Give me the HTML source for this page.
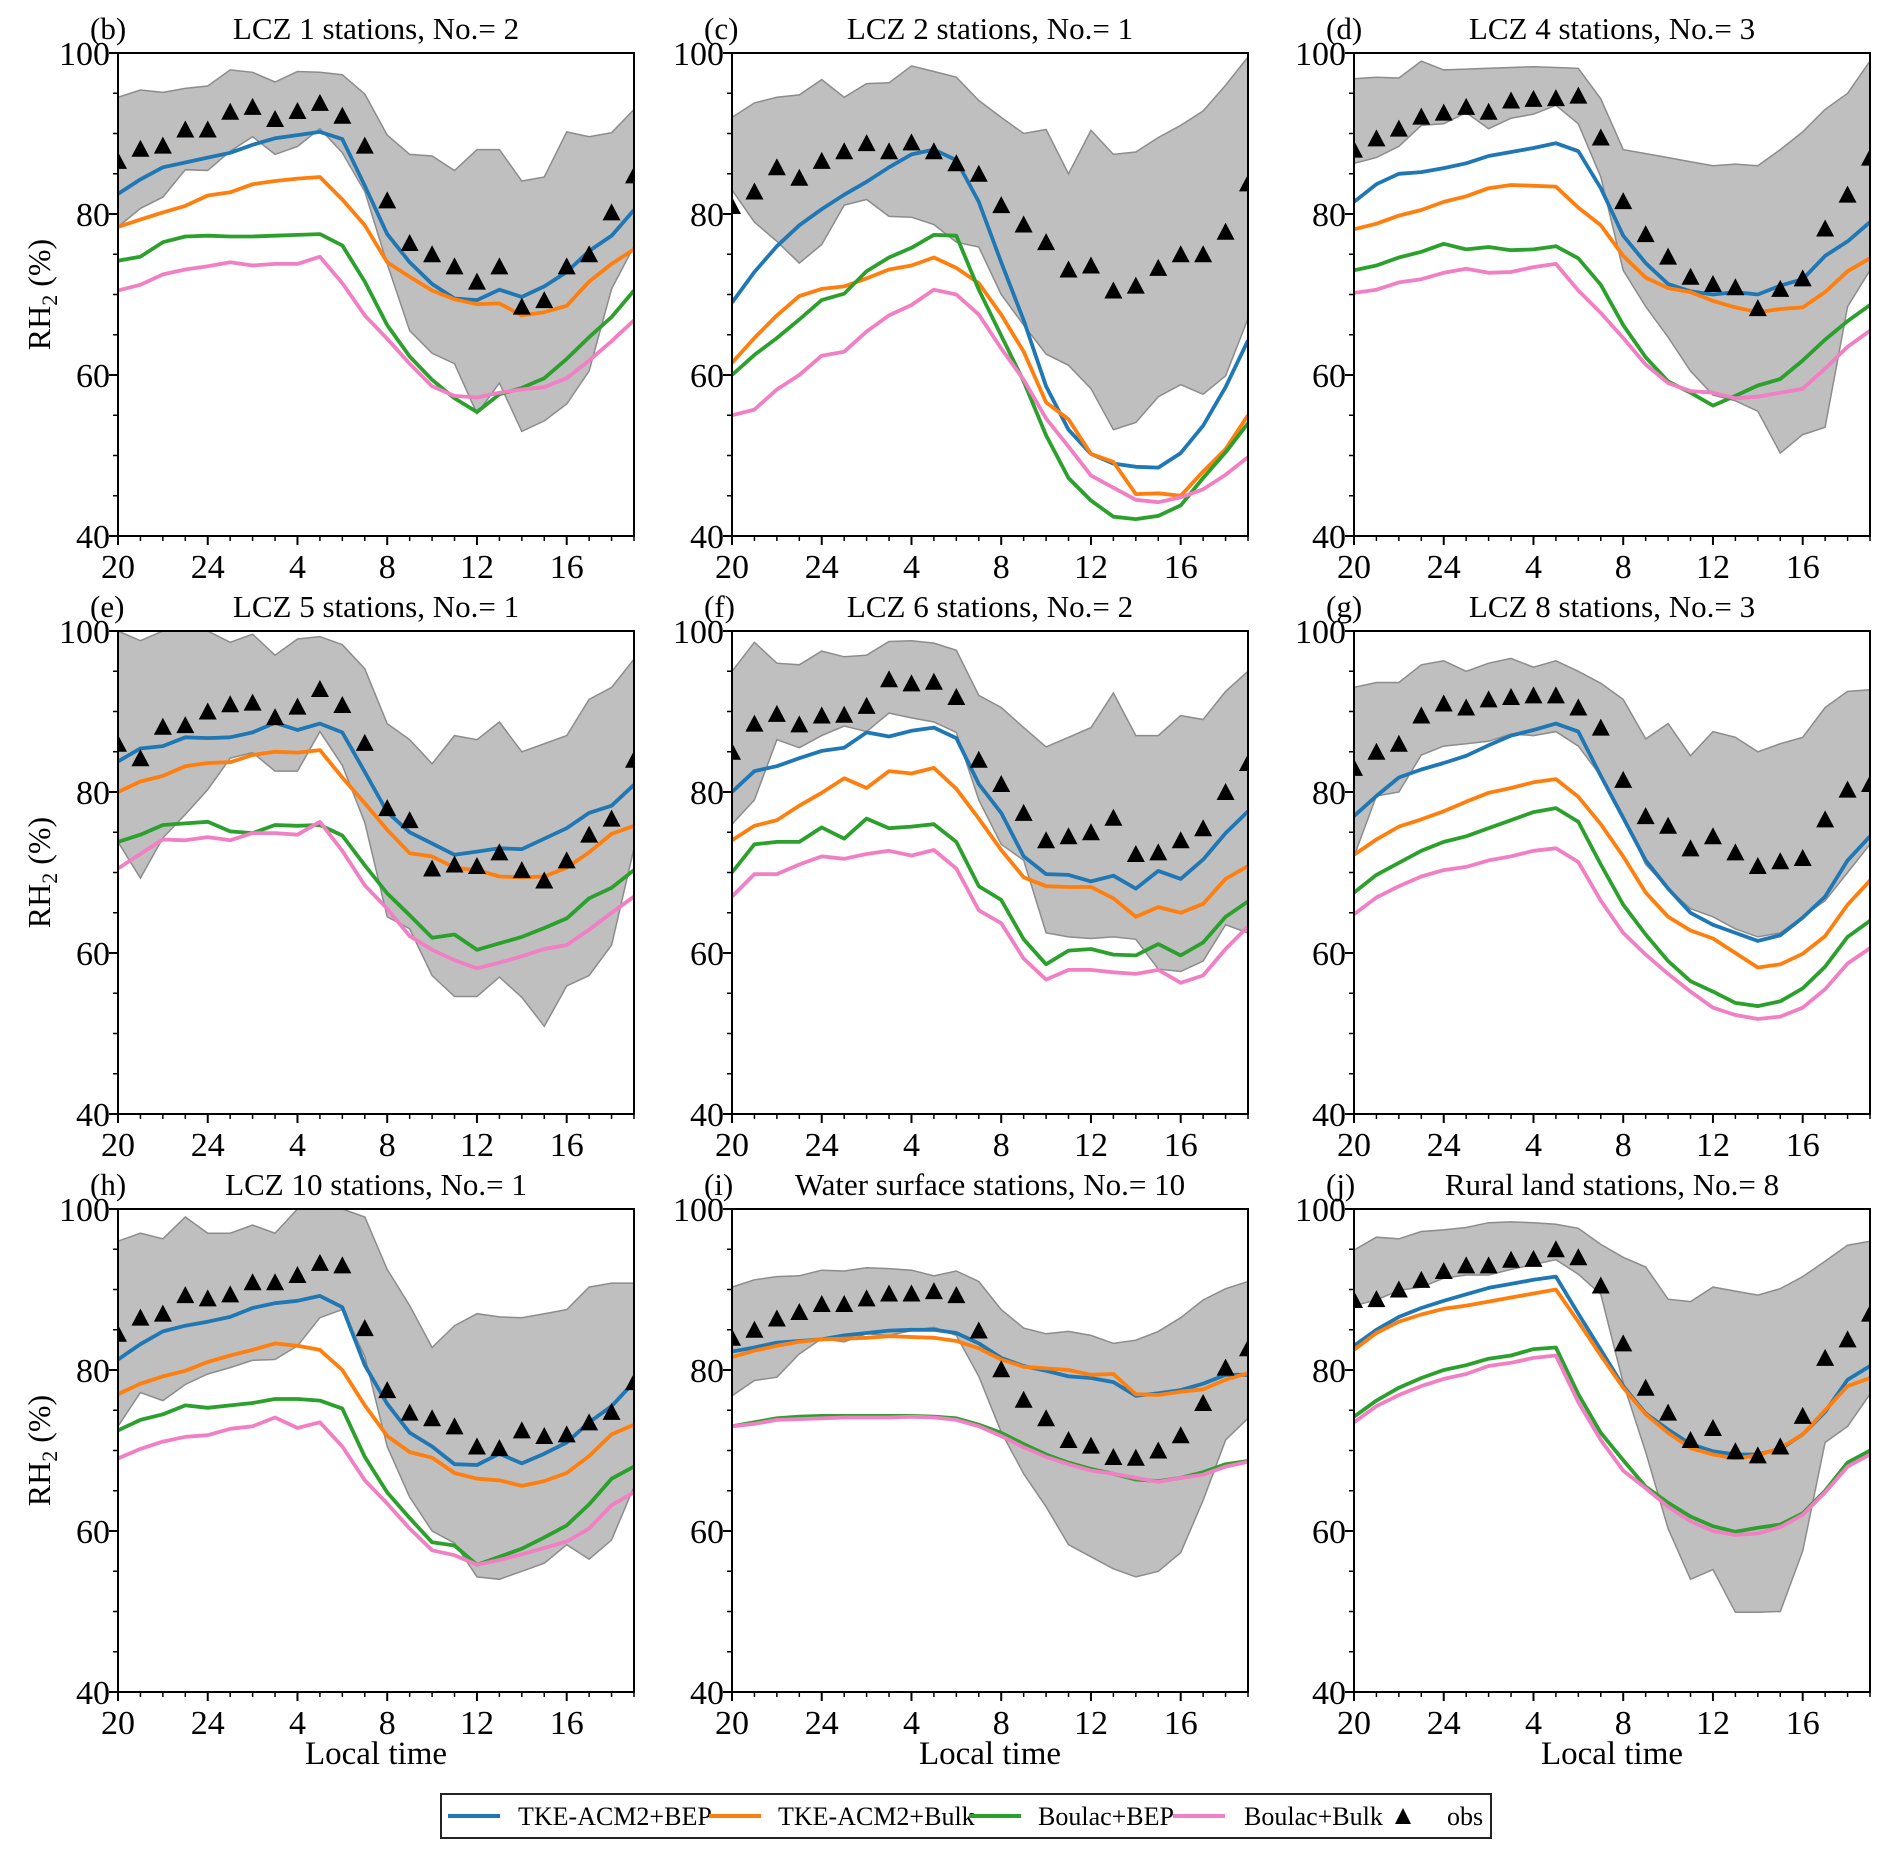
<!DOCTYPE html>
<html><head><meta charset="utf-8"><style>
html,body{margin:0;padding:0;background:#fff;}
svg{display:block;font-family:"Liberation Serif",serif;}
</style></head><body>
<svg id="fig" width="1892" height="1860" viewBox="0 0 1892 1860" xmlns="http://www.w3.org/2000/svg"></svg>
<script>
const hours = [20,21,22,23,24,1,2,3,4,5,6,7,8,9,10,11,12,13,14,15,16,17,18,19];
const xTickLabels = ["20","24","4","8","12","16"];
const yTickLabels = [40,60,80,100];
const seriesNames = ["TKE-ACM2+BEP","TKE-ACM2+Bulk","Boulac+BEP","Boulac+Bulk"];
const seriesColors = ["#1f77b4","#ff7f0e","#2ca02c","#f17fc3"];
const titles = ["LCZ 1 stations, No.= 2","LCZ 2 stations, No.= 1","LCZ 4 stations, No.= 3","LCZ 5 stations, No.= 1","LCZ 6 stations, No.= 2","LCZ 8 stations, No.= 3","LCZ 10 stations, No.= 1","Water surface stations, No.= 10","Rural land stations, No.= 8"];
const letters = ["(b)","(c)","(d)","(e)","(f)","(g)","(h)","(i)","(j)"];

const blue = [
[82.5,84.3,85.8,86.4,87,87.6,88.6,89.4,89.8,90.2,89.3,83.5,77.5,74,71.3,69.5,69.3,70.6,69.7,71,72.8,75.4,77.3,80.5],
[69,72.8,76,78.6,80.6,82.4,84,85.8,87.4,88,86.7,81.5,74,66.8,58.6,53.2,50.2,49,48.6,48.5,50.3,53.7,58.5,64.3],
[81.5,83.7,85,85.2,85.7,86.3,87.2,87.7,88.2,88.8,87.8,83.2,77.3,73.9,71.3,70.4,70,70.3,70,71.1,71.9,74.8,76.6,79],
[83.8,85.4,85.7,86.8,86.7,86.8,87.4,88.6,87.7,88.5,87.4,82.5,77.5,75,73.6,72.2,72.6,73,72.9,74.2,75.5,77.4,78.3,80.9],
[80,82.6,83.2,84.2,85.1,85.5,87.4,86.9,87.6,88,86.7,81,77.4,72,69.8,69.7,68.9,69.6,68,70.2,69.2,71.6,74.9,77.6],
[77,79.5,81.8,82.8,83.6,84.5,85.8,87,87.7,88.5,87.5,82,76.8,71.5,68,65,63.5,62.5,61.5,62.2,64.4,67,71.5,74.5],
[81.3,83.2,84.8,85.5,86,86.6,87.7,88.3,88.6,89.2,87.8,80.6,75.8,72.2,70.5,68.3,68.2,69.6,68.4,69.6,71,73.5,75.5,78.5],
[82.3,82.8,83.4,83.6,83.8,84.3,84.6,84.9,85,85,84.6,83.3,81.5,80.5,79.9,79.2,79,78.5,76.8,77.1,77.5,78.3,79.4,79.4],
[83,85,86.6,87.7,88.6,89.4,90.2,90.7,91.2,91.6,87,82.5,78,74.6,72.6,70.8,69.9,69.5,69.5,70.2,72,74.8,78.8,80.5]];
const orange = [
[78.4,79.3,80.2,81,82.3,82.7,83.7,84.1,84.4,84.6,81.8,78.6,74,72.2,70.5,69.4,68.8,68.9,67.4,67.8,68.6,71.6,73.8,75.6],
[61.5,64.6,67.4,69.8,70.7,71,72,73.1,73.6,74.6,73.3,71.4,67.5,62.9,56.6,54.5,50.2,49.2,45.2,45.3,45,48,50.8,55],
[78.1,78.8,79.8,80.5,81.5,82.2,83.2,83.6,83.5,83.4,80.8,78.6,74.8,72.1,70.8,70.3,69.2,68.4,67.8,68.2,68.4,70.3,72.9,74.5],
[80,81.3,82,83.2,83.6,83.7,84.6,85,84.9,85.2,81.8,78.6,75.3,72.4,72,70.6,70.3,69.5,69.4,69.5,70.6,72.5,74.8,75.8],
[74,75.8,76.5,78.3,79.9,81.7,80.5,82.6,82.3,83,80.4,76.7,72.8,69.4,68.3,68.2,68.2,66.8,64.5,65.7,65,66.1,69.2,70.8],
[72.2,74.1,75.7,76.6,77.6,78.8,79.9,80.5,81.2,81.6,79.4,76,72,67.5,64.5,62.8,61.8,60,58.2,58.6,59.9,62.1,66,69],
[77,78.3,79.2,79.9,81,81.8,82.5,83.3,83,82.5,80,75.6,71.8,69.8,69.1,67.2,66.5,66.3,65.6,66.2,67.2,69.3,72,73.2],
[81.6,82.4,83,83.5,83.8,83.9,84,84.2,84.1,84,83.6,82.7,81.3,80.4,80.2,80,79.4,79.5,77,76.9,77.3,77.6,78.8,79.6],
[82.5,84.6,86,86.9,87.6,88,88.5,89,89.5,90,86,81.8,77.8,74.5,72.2,70.3,69.5,69,69.4,70.3,72,75,78,79]];
const green = [
[74.2,74.7,76.5,77.2,77.3,77.2,77.2,77.3,77.4,77.5,76.1,71.6,66.2,62.3,59.4,57.1,55.4,57.6,58.4,59.6,62,64.7,67.2,70.5],
[60,62.5,64.6,66.9,69.3,70.1,72.9,74.6,75.8,77.4,77.3,70.6,64.9,59.2,52.5,47.2,44.4,42.4,42.1,42.5,43.8,47.2,50.4,54],
[73,73.6,74.6,75.3,76.3,75.6,75.9,75.5,75.6,76,74.5,71.2,66.2,62.2,59.2,57.8,56.2,57.4,58.7,59.5,61.8,64.4,66.7,68.7],
[73.8,74.7,75.9,76.1,76.3,75.1,74.9,75.9,75.8,75.9,74.6,70.9,67.4,64.7,61.9,62.3,60.4,61.2,62,63.1,64.3,66.8,68.1,70.3],
[70,73.5,73.8,73.8,75.6,74.2,76.7,75.5,75.7,76,73.8,68.3,66.6,61.7,58.6,60.3,60.5,59.8,59.7,61.1,59.7,61.3,64.5,66.4],
[67.5,69.7,71.2,72.7,73.8,74.5,75.5,76.5,77.5,78,76.3,71,66,62.3,59,56.5,55.2,53.8,53.4,54,55.6,58.3,62,64],
[72.5,73.8,74.5,75.6,75.3,75.6,75.9,76.4,76.4,76.2,75.2,69.2,64.8,61.6,58.6,58.2,55.8,56.8,57.8,59.2,60.7,63.3,66.5,68],
[73,73.5,74,74.2,74.3,74.3,74.3,74.3,74.3,74.2,74,73.2,72.2,70.8,69.5,68.5,67.7,67.1,66.4,66.2,66.6,67.3,68.3,68.7],
[74.2,76.2,77.8,79,80,80.6,81.4,81.8,82.6,82.8,77,72.2,68.8,65.5,63.5,61.8,60.6,59.9,60.4,60.8,62.2,65,68.5,70]];
const pink = [
[70.5,71.2,72.5,73.1,73.5,74,73.6,73.8,73.8,74.7,71.4,67.4,64.5,61.4,58.6,57.4,57.2,57.8,58.2,58.5,59.6,61.8,64.2,66.8],
[55,55.7,58.2,60,62.4,62.9,65.4,67.4,68.7,70.6,70,67.5,63.3,59.4,54.6,51.1,47.5,46,44.5,44.2,44.8,45.8,47.6,49.8],
[70.2,70.6,71.5,71.9,72.7,73.2,72.7,72.8,73.4,73.8,70.5,67.7,64.6,61.3,59,58,57.8,57.1,57.3,57.8,58.3,60.8,63.5,65.5],
[70.5,72.3,74.1,74,74.4,74,74.9,74.9,74.7,76.3,72.7,68.4,65.5,62.1,60.4,59.1,58.1,58.8,59.6,60.5,61,62.9,65,67],
[67,69.8,69.8,71,72,71.7,72.3,72.7,72.1,72.8,70.5,65.3,63.7,59.3,56.7,57.9,57.9,57.6,57.4,57.9,56.3,57.2,60.5,63.3],
[64.8,66.9,68.3,69.5,70.3,70.7,71.5,72,72.7,73,71.3,66.5,62.5,59.8,57.4,55.2,53.2,52.3,51.8,52.1,53.2,55.5,58.7,60.6],
[69,70.2,71.1,71.7,71.9,72.7,73,74.1,72.8,73.5,70.5,66.3,63.4,60.3,57.6,57,55.8,56.4,57.1,57.9,58.7,60.3,63.2,64.8],
[73,73.3,73.8,73.9,74,74.1,74.1,74.1,74.2,74.1,73.8,73,71.8,70.4,69.2,68.3,67.5,67.1,66.6,66.1,66.6,67,68,68.6],
[73.5,75.5,76.9,78,78.9,79.5,80.5,80.9,81.5,81.8,76,71.3,67.5,65.3,63,61.2,60,59.5,59.7,60.5,62,64.8,68,69.5]];
const obs = [
[86.6,88.1,88.5,90.5,90.5,92.7,93.3,91.8,92.8,93.8,92.2,88.5,81.7,76.4,75,73.5,71.6,73.5,68.5,69.3,73.5,75,80.2,84.8],
[81,82.8,85.8,84.5,86.6,87.8,88.8,87.8,88.9,87.8,86.3,85,81.1,78.7,76.5,73.1,73.6,70.5,71.1,73.3,75,75,77.8,83.8],
[88,89.4,90.6,92.1,92.6,93.3,92.7,94.1,94.3,94.4,94.7,89.5,81.6,77.5,74.7,72.2,71.3,70.9,68.3,70.7,72,78.2,82.4,87],
[86,84.2,88.1,88.3,90,90.9,91.1,89.3,90.6,92.8,90.8,86.1,78,76.5,70.5,71,70.8,72.5,70.3,69,71.5,74.7,76.7,84],
[85,88.5,89.7,88.4,89.5,89.6,90.7,94,93.5,93.7,91.8,84,81,77.4,74,74.5,75,76.8,72.3,72.5,74,75.5,80,83.6],
[83,85,86,89.5,91,90.5,91.5,91.8,92,92,90.5,88,81.5,77,75.8,73,74.5,72.5,70.8,71.4,71.8,76.6,80.3,81],
[84.5,86.5,87,89.3,88.9,89.4,90.9,90.9,91.8,93.3,93,85.2,77.5,74.7,74,73,70.5,70.3,72.5,71.8,72,73.5,74.8,78.5],
[84,85,86.4,87.2,88.2,88.2,88.9,89.5,89.5,89.8,89.3,84.9,80.1,76.3,74,71.3,70.6,69.2,69.1,70,71.9,75.9,80.3,82.7],
[88.7,88.8,90,91.2,92.3,93,93,93.7,93.8,95,94,90.5,83.3,77.8,74.7,71.3,72.8,69.9,69.4,70.5,74.3,81.5,83.8,87]];
const bandUpper = [
[94.5,95.4,95.1,95.6,95.9,97.9,97.6,96.4,97.7,97.6,97.3,94.9,89.8,87.4,87.2,85.4,88,88,84.1,84.6,90.2,89.6,90.1,93],
[92,93.8,94.5,94.8,96.7,94.5,96.2,96.3,98.4,97.7,97,94.1,92,90,90.5,85,90.4,87.4,87.7,89.5,91,92.8,96,99.5],
[96.8,97,96.9,99,97.9,98,98.1,98.2,98.3,98.2,98.1,94.3,88,87.5,87,86.5,86,86.2,86,88,90.2,93,95,99],
[100,98.8,100,100,100,98.6,99.6,97,99,99.3,98.3,95.3,88.5,86.5,83.5,87,86.5,88.7,85,86,87,91.5,93,96.5],
[95,98.6,96,95.8,97.5,96.8,97,98.7,98.8,98.5,97.6,92,90.5,88,85.6,86.8,88,92.3,87,87,89.5,89,92.5,95],
[93,93.6,93.6,95.8,96.3,95,96,96.6,95.5,96.3,95,93.5,91.5,86.6,88.5,84.5,87.5,86.8,85,86,86.8,90.5,92.5,92.7],
[96,97,96.3,99,97,97,98,97,100,100,100,99,92.5,88,82.8,85.5,87,86.6,86.5,87,87.5,90.3,90.8,90.8],
[90.3,91.2,91.6,91.7,92.4,92.3,92.7,92.6,92.4,91.7,92.3,91,87.5,85.2,84.5,84.8,84.3,83.3,83.7,84.8,86.5,88.7,90.1,91],
[94.9,96.5,96.3,97.2,97.4,97.7,98.3,98.4,98.3,98.1,97.6,95.6,94,92.8,88.8,88.5,90.3,89.8,89.3,90.1,91.6,93.5,95.5,96]];
const bandLower = [
[78.4,80.7,82.1,85.5,85.4,87.8,89.6,87.4,88.4,90.6,87.6,82.8,73.8,65.5,62.7,61.4,55.2,59,53,54.3,56.4,60.5,70.7,76],
[83,79,76.6,73.9,76.2,81.1,81.8,79.7,79.6,78.7,76.5,75.9,70,66.2,62.6,61.2,58.3,53.2,54.1,57.3,58.8,57.6,59.9,67],
[86.3,87,88.4,91,91.2,92.6,90.6,91.9,92.4,93.5,91.2,84.6,73,68.5,64.7,60.5,57.5,56.8,55.5,50.3,52.6,53.5,68.5,73],
[73.8,69.3,74.3,77.2,80.3,84.2,84.9,82.6,82.6,87.5,83.3,76.2,64.5,63,57.2,54.6,54.6,57,54.5,50.9,55.9,57.2,61,73],
[76,79,86.5,85.5,87,88.2,87.5,89.8,89.2,88.7,87.4,79,73.5,71.5,62.5,62,61.8,62,61.7,58,57.7,59,63.5,62.5],
[72,79.5,80,84.6,85.7,86,86.3,87.2,87,87.5,85.7,82,77,71,68,65.5,64.5,63,62,62.5,64.5,66.5,70,73.5],
[73,77.2,76.2,78.2,79.5,80.3,81.2,81.3,83,86.5,87.5,81.7,70.5,64.2,60,58.5,54.3,54,55,56,58.3,56.5,58.9,65.5],
[76.8,78.7,79.1,82,83.9,83.5,84.5,84.3,84.9,85.3,84.3,79.2,72.3,67.1,63,58.3,56.8,55.3,54.3,55,57.3,63.8,71.3,74],
[88,88.7,89.9,90.3,91.4,91.8,91.8,92.5,93.1,93.7,91.9,89.4,78.4,69.8,60.3,54,55.2,49.9,49.9,50,57.5,71,73,77]];

const NS="http://www.w3.org/2000/svg";
const svg=document.getElementById('fig');
function mk(tag,attrs,parent){const e=document.createElementNS(NS,tag);for(const k in attrs)e.setAttribute(k,attrs[k]);(parent||svg).appendChild(e);return e;}
const colL=[118,732,1354], colW=516;
const rowT=[53,631,1209], rowH=483;
const YMIN=40,YMAX=100;

for(let p=0;p<9;p++){
  const r=Math.floor(p/3), c=p%3;
  const L=colL[c], T=rowT[r], W=colW, H=rowH;
  const xs=i=>L+i*W/(hours.length-1);
  const ys=v=>T+H-(v-YMIN)/(YMAX-YMIN)*H;
  const g=mk('g',{});
  
  
  const clipId='clip'+p;
  const cp=mk('clipPath',{id:clipId},g); mk('rect',{x:L,y:T,width:W,height:H},cp);
  const plot=mk('g',{'clip-path':'url(#'+clipId+')'},g);
  let d='';
  bandUpper[p].forEach((v,i)=>{d+=(i?'L':'M')+xs(i).toFixed(1)+','+ys(v).toFixed(1);});
  for(let i=bandLower[p].length-1;i>=0;i--) d+='L'+xs(i).toFixed(1)+','+ys(bandLower[p][i]).toFixed(1);
  const band=mk('path',{d:d+'Z',fill:'#bfbfbf',stroke:'#8c8c8c','stroke-width':1.5},plot);
  
  
  [blue,orange,green,pink].forEach((s,si)=>{
    const pts=s[p].map((v,i)=>xs(i).toFixed(1)+','+ys(v).toFixed(1)).join(' ');
    const pl=mk('polyline',{points:pts,fill:'none',stroke:seriesColors[si],'stroke-width':3.8,'stroke-linejoin':'round'},plot);
    
    
  });
  obs[p].forEach((v,i)=>{
    const x=xs(i),y=ys(v);
    const t=mk('path',{d:`M${x-9},${y+8}L${x},${y-9}L${x+9},${y+8}Z`,fill:'#000'},plot);
    
    
  });
  mk('rect',{x:L,y:T,width:W,height:H,fill:'none',stroke:'#000','stroke-width':2},g);
  hours.forEach((h,i)=>{
    const major=i%4===0; const x=xs(i);
    mk('line',{x1:x,x2:x,y1:T+H,y2:T+H+(major?9:5),stroke:'#000','stroke-width':major?2:1.5},g);
  });
  xTickLabels.forEach((lab,k)=>{
    const t=mk('text',{x:xs(k*4),y:T+H+42,'text-anchor':'middle','font-size':34},g); t.textContent=lab;
    
    
  });
  for(let v=YMIN;v<=YMAX;v+=5){
    const major=(v%20===0);
    mk('line',{x1:L,x2:L-(major?9:5),y1:ys(v),y2:ys(v),stroke:'#000','stroke-width':major?2:1.5},g);
  }
  yTickLabels.forEach(v=>{
    const t=mk('text',{x:L-8,y:ys(v)+12,'text-anchor':'end','font-size':34},g); t.textContent=v;
    
    
  });
  const tt=mk('text',{x:L+W/2,y:T-14,'text-anchor':'middle','font-size':31},g); tt.textContent=titles[p];
  
  
  const lt=mk('text',{x:L-28,y:T-14,'font-size':31},g); lt.textContent=letters[p];
  
  
  if(c===0){
    const yl=mk('text',{transform:`translate(${L-68},${T+H/2}) rotate(-90)`,'text-anchor':'middle','font-size':32},g);
    yl.innerHTML='RH<tspan font-size="22" dy="7">2</tspan><tspan dy="-7"> (%)</tspan>';
    
    
  }
  if(r===2){
    const xl=mk('text',{x:L+W/2,y:1764,'text-anchor':'middle','font-size':33},g); xl.textContent='Local time';
    
    
  }
}
const lg=mk('g',{});


mk('rect',{x:441,y:1794,width:1050,height:44,fill:'#fff',stroke:'#222','stroke-width':2},lg);
const legLineX=[448,709,969,1173], legTextX=[518,778,1038,1244];
seriesNames.forEach((n,i)=>{
  const ln=mk('line',{x1:legLineX[i],x2:legLineX[i]+52,y1:1816,y2:1816,stroke:seriesColors[i],'stroke-width':4},lg);
  
  
  const t=mk('text',{x:legTextX[i],y:1825,'font-size':26},lg); t.textContent=n;
  
  
});
const lt2=mk('path',{d:'M1395,1824L1403,1808L1411,1824Z',fill:'#000'},lg);


const ot=mk('text',{x:1447,y:1825,'font-size':26},lg); ot.textContent='obs';


</script>
</body></html>
